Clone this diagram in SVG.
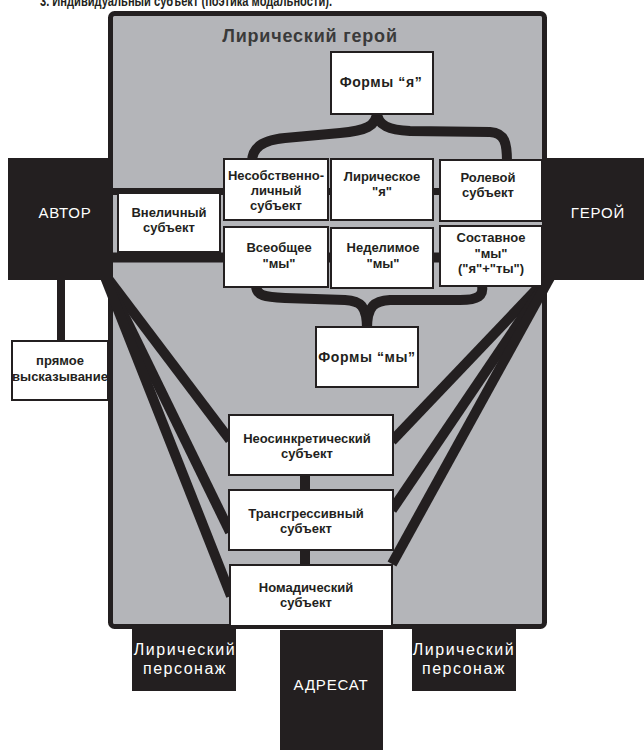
<svg xmlns="http://www.w3.org/2000/svg" width="644" height="750" viewBox="0 0 644 750">
<style>
.bg{fill:#ffffff}
.panel{fill:#b4b5b9;stroke:#231f20;stroke-width:5}
.box{fill:#ffffff;stroke:#231f20;stroke-width:2}
.blk{fill:#231f20}
.t{font-family:"Liberation Sans",Arial,sans-serif;font-weight:bold;font-size:13px;fill:#231f20;text-anchor:middle}
.tb{font-family:"Liberation Sans",Arial,sans-serif;font-weight:bold;font-size:14px;fill:#231f20;text-anchor:middle;letter-spacing:0.6px}
.w{font-family:"Liberation Sans",Arial,sans-serif;font-size:15px;fill:#ffffff;text-anchor:middle;letter-spacing:0.8px}
.wl{font-family:"Liberation Sans",Arial,sans-serif;font-size:16px;fill:#ffffff;text-anchor:middle;letter-spacing:1.5px}
.ln{stroke:#231f20;fill:none}
</style>
<rect class="bg" x="0" y="0" width="644" height="750"/>
<text x="40" y="6" font-family="Liberation Sans, Arial, sans-serif" font-weight="bold" font-size="14" fill="#231f20" textLength="292" lengthAdjust="spacingAndGlyphs">3. Индивидуальный субъект (поэтика модальности).</text>

<g id="lyric-hero">
<rect class="panel" x="110.5" y="13.5" width="434" height="613" rx="4"/>
<text x="310" y="42" font-family="Liberation Sans, Arial, sans-serif" font-weight="bold" font-size="18" fill="#3a3a3a" text-anchor="middle" letter-spacing="0.8">Лирический герой</text>
</g>

<g id="connectors">
<line class="ln" x1="100" y1="191.5" x2="550" y2="191.5" stroke-width="7"/>
<line class="ln" x1="100" y1="257.5" x2="550" y2="257.5" stroke-width="10"/>
<path class="ln" stroke-width="10" d="M377,112 C377,126 365,131 340,133 L285,138 C262,140 252,148 252,162"/>
<path class="ln" stroke-width="10" d="M377,112 C377,126 390,130 410,131 L490,132 C505,133 507,143 507,162"/>
<path class="ln" stroke-width="10" d="M256,285 C256,296 265,297 285,298 L345,300 C360,301 367,305 367,329"/>
<path class="ln" stroke-width="10" d="M482,285 C484,296 478,300 460,300 L390,300 C375,301 367,305 367,329"/>
<line class="ln" x1="61" y1="278" x2="61" y2="343" stroke-width="8"/>
<line class="ln" x1="103" y1="272" x2="230" y2="440" stroke-width="10"/>
<line class="ln" x1="103" y1="272" x2="230" y2="532" stroke-width="10"/>
<line class="ln" x1="103" y1="272" x2="231" y2="596" stroke-width="10"/>
<line class="ln" x1="553" y1="272" x2="392" y2="441" stroke-width="10"/>
<line class="ln" x1="553" y1="272" x2="392" y2="510" stroke-width="10"/>
<line class="ln" x1="553" y1="272" x2="392" y2="564" stroke-width="10"/>
<line class="ln" x1="305" y1="474" x2="305" y2="491" stroke-width="10"/>
<line class="ln" x1="305" y1="549" x2="305" y2="566" stroke-width="10"/>
</g>

<g id="avtor">
<rect class="blk" x="8" y="158" width="102" height="122"/>
<text class="w" x="65" y="217.5">АВТОР</text>
</g>
<g id="geroy">
<rect class="blk" x="545" y="158" width="99" height="122"/>
<text class="w" x="598" y="217.5">ГЕРОЙ</text>
</g>

<g id="formy-ya">
<rect class="box" x="331" y="52" width="102" height="62"/>
<text class="tb" x="381" y="87">Формы “я”</text>
</g>

<g id="vnelichny">
<rect class="box" x="118" y="193" width="102" height="59"/>
<text class="t" x="169" y="217">Внеличный</text>
<text class="t" x="169" y="232">субъект</text>
</g>

<g id="nesobstvenno">
<rect class="box" x="224" y="159" width="104" height="61"/>
<text class="t" x="276" y="180">Несобственно-</text>
<text class="t" x="276" y="195">личный</text>
<text class="t" x="276" y="210">субъект</text>
</g>

<g id="liricheskoe-ya">
<rect class="box" x="331" y="159" width="102" height="61"/>
<text class="t" x="382" y="181">Лирическое</text>
<text class="t" x="382" y="196">"я"</text>
</g>

<g id="rolevoy">
<rect class="box" x="440" y="160" width="102" height="61"/>
<text class="t" x="488" y="182">Ролевой</text>
<text class="t" x="488" y="197">субъект</text>
</g>

<g id="vseobschee">
<rect class="box" x="224" y="227" width="104" height="60"/>
<text class="t" x="279" y="252">Всеобщее</text>
<text class="t" x="279" y="268">"мы"</text>
</g>

<g id="nedelimoe">
<rect class="box" x="331" y="228" width="102" height="60"/>
<text class="t" x="383" y="252">Неделимое</text>
<text class="t" x="383" y="268">"мы"</text>
</g>

<g id="sostavnoe">
<rect class="box" x="440" y="226" width="102" height="60"/>
<text class="t" x="491" y="242">Составное</text>
<text class="t" x="491" y="258">"мы"</text>
<text class="t" x="491" y="273">("я"+"ты")</text>
</g>

<g id="formy-my">
<rect class="box" x="316" y="327" width="102" height="60"/>
<text class="tb" x="367" y="362">Формы “мы”</text>
</g>

<g id="pryamoe">
<rect class="box" x="12" y="341" width="96" height="59"/>
<text class="t" x="60" y="365">прямое</text>
<text class="t" x="60" y="381">высказывание</text>
</g>

<g id="neosinkret">
<rect class="box" x="229" y="415" width="164" height="60"/>
<text class="t" x="307" y="443">Неосинкретический</text>
<text class="t" x="307" y="458">субъект</text>
</g>

<g id="transgress">
<rect class="box" x="229" y="490" width="164" height="60"/>
<text class="t" x="306" y="518">Трансгрессивный</text>
<text class="t" x="306" y="533">субъект</text>
</g>

<g id="nomad">
<rect class="box" x="230" y="565" width="162" height="61"/>
<text class="t" x="306" y="592">Номадический</text>
<text class="t" x="306" y="607">субъект</text>
</g>

<g id="lir-personazh-left">
<rect class="blk" x="132" y="629" width="104" height="62"/>
<text class="wl" x="185" y="655">Лирический</text>
<text class="wl" x="185" y="674">персонаж</text>
</g>

<g id="adresat">
<rect class="blk" x="280" y="630" width="103" height="120"/>
<text class="w" x="331" y="690" font-size="17" letter-spacing="1.2">АДРЕСАТ</text>
</g>

<g id="lir-personazh-right">
<rect class="blk" x="412" y="629" width="104" height="62"/>
<text class="wl" x="464" y="655">Лирический</text>
<text class="wl" x="464" y="674">персонаж</text>
</g>
</svg>
